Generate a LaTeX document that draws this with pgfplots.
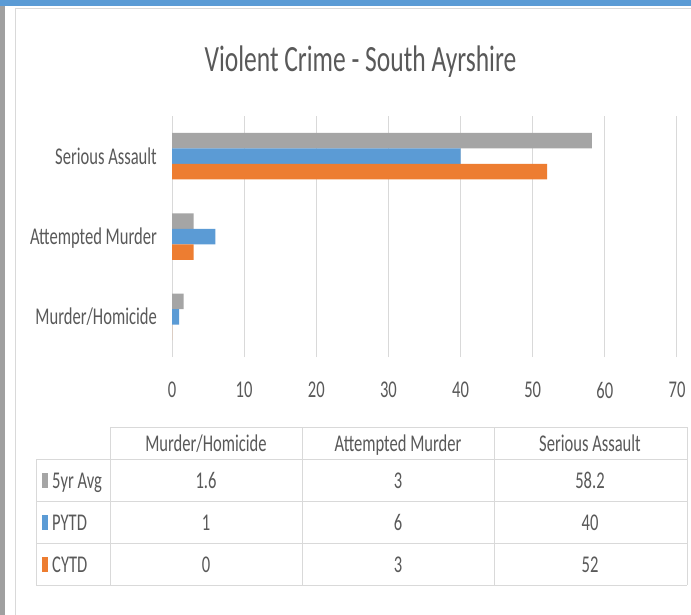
\documentclass[border=0pt]{standalone}
\usepackage{pgfplots}
\pgfplotsset{compat=1.18}
\usepackage{fontspec}
\setmainfont{Carlito}
\usepackage{graphicx}
\definecolor{cgray}{HTML}{A5A5A5}
\definecolor{cblue}{HTML}{5B9BD5}
\definecolor{corange}{HTML}{ED7D31}
\definecolor{ctext}{HTML}{595959}
\definecolor{cgrid}{HTML}{D9D9D9}
\definecolor{cbar}{HTML}{A0A0A0}
\newcommand\sx[1]{\scalebox{0.69}[1]{#1}}
\newcommand\lab{\fontsize{24}{28}\selectfont}
\begin{document}
\begin{tikzpicture}
\begin{scope}[x=1pt,y=-1pt]
\useasboundingbox (0,0) rectangle (691,615);
\fill[white] (0,0) rectangle (691,615);
\fill[cblue] (0,0) rectangle (691,6);
\fill[cbar] (0,6) rectangle (5,615);
\draw[cgrid, line width=1.5pt] (15.5,615) -- (15.5,8.5) -- (691,8.5);
\node[anchor=base, text=ctext, font=\fontsize{37}{44}\selectfont, inner sep=0pt] at (360.5,72) {\sx{Violent Crime - South Ayrshire}};
% data table
\begin{scope}[cgrid, line width=1pt]
\draw (110,427) -- (687,427);
\draw (36,459) -- (687,459);
\draw (36,501) -- (687,501);
\draw (36,543) -- (687,543);
\draw (36,585) -- (687,585);
\draw (36,459) -- (36,585);
\draw (110,427) -- (110,585);
\draw (302,427) -- (302,585);
\draw (494,427) -- (494,585);
\draw (687,427) -- (687,585);
\end{scope}
\begin{scope}[every node/.style={text=ctext, font=\lab, inner sep=0pt}]
\node[anchor=base] at (206,451) {\sx{Murder/Homicide}};
\node[anchor=base] at (398,451) {\sx{Attempted Murder}};
\node[anchor=base] at (590,451) {\sx{Serious Assault}};
\node[anchor=base] at (206,488) {\sx{1.6}};
\node[anchor=base] at (398,488) {\sx{3}};
\node[anchor=base] at (590,488) {\sx{58.2}};
\node[anchor=base] at (206,530) {\sx{1}};
\node[anchor=base] at (398,530) {\sx{6}};
\node[anchor=base] at (590,530) {\sx{40}};
\node[anchor=base] at (206,572) {\sx{0}};
\node[anchor=base] at (398,572) {\sx{3}};
\node[anchor=base] at (590,572) {\sx{52}};
\node[anchor=base west] at (52,488) {\sx{5yr Avg}};
\node[anchor=base west] at (52,530) {\sx{PYTD}};
\node[anchor=base west] at (52,572) {\sx{CYTD}};
\end{scope}
\fill[cgray] (42,473) rectangle (48,488);
\fill[cblue] (42,515) rectangle (48,530);
\fill[corange] (42,557) rectangle (48,572);
\end{scope}
\begin{axis}[
  at={(172pt,-357pt)}, anchor=south west,
  width=505pt, height=241pt, scale only axis,
  xmin=0, xmax=70, ymin=-0.5, ymax=2.5,
  axis line style={draw=none},
  xmajorgrids, major grid style={cgrid, line width=1pt},
  xtick={0,10,20,30,40,50,60,70},
  xticklabels={\sx{0},\sx{10},\sx{20},\sx{30},\sx{40},\sx{50},\sx{60},\sx{70}},
  ytick={0,1,2},
  yticklabels={\sx{Murder/Homicide},\sx{Attempted Murder},\sx{Serious Assault}},
  major tick length=0pt,
  tick style={draw=none},
  ticklabel style={font=\lab, text=ctext, inner sep=0pt},
  xticklabel style={anchor=center, yshift=-33pt},
  yticklabel style={anchor=base east, xshift=-15pt, yshift=-8pt},
  xbar, bar width=15.5pt,
]
\addplot[fill=cgray, draw=none, bar shift=15.5pt] coordinates {(1.6,0) (3,1) (58.2,2)};
\addplot[fill=cblue, draw=none, bar shift=0pt] coordinates {(1,0) (6,1) (40,2)};
\addplot[fill=corange, draw=none, bar shift=-15.5pt] coordinates {(0,0) (3,1) (52,2)};
\end{axis}
\end{tikzpicture}
\end{document}
